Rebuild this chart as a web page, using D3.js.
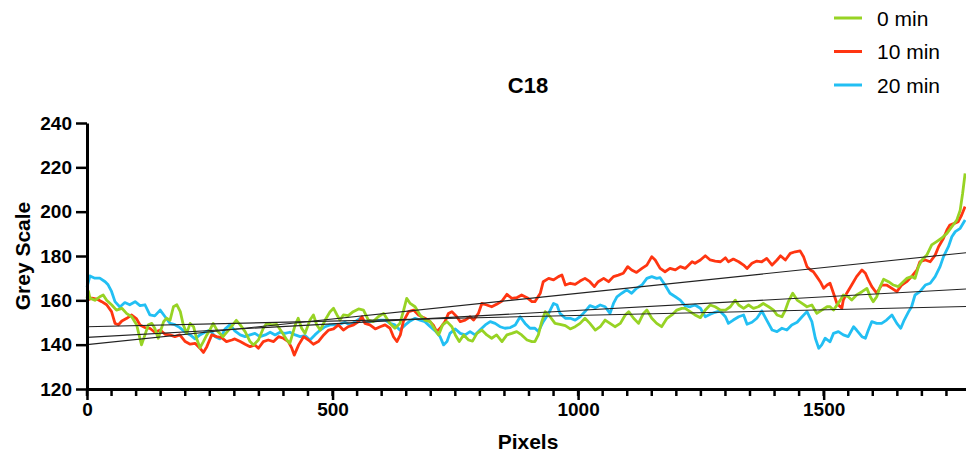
<!DOCTYPE html>
<html>
<head>
<meta charset="utf-8">
<script src="https://cdn.jsdelivr.net/npm/d3@7"></script>
<style>
    body { margin: 0; background: #fff; }
    text { font-family: 'Liberation Sans', Arial, sans-serif; }
</style>
</head>
<body>
<div id="chart"></div>
<script>
(function() {
    'use strict';

    // data: [pixel, grey value]
    const seriesNames = ['0 min', '10 min', '20 min'];
    const seriesColors = ['#97d324', '#ff3511', '#22bff3'];

    const green0 = [
        [0, 161], [3, 164], [6, 161], [16, 160], [26, 161.6], [33, 162.4], [40, 160], [50, 158], [60, 155.6],
        [71, 156.4], [81, 154], [91, 152.6], [101, 149], [111, 139.9], [118, 144.4], [125, 149], [132, 149.6],
        [138, 147.4], [145, 142.9], [156, 150.4], [162, 151.9], [169, 151], [176, 157.1], [183, 158], [190, 154.9],
        [196, 149], [203, 145.1], [210, 149.6], [217, 148.1], [223, 142.9], [230, 138.6], [237, 141.4], [244, 144.4],
        [250, 146.6], [257, 149.6], [266, 146], [277, 143.6], [290, 147], [304, 151], [312, 148.9], [322, 145.9],
        [332, 141.4], [339, 139.9], [349, 142.1], [359, 147.4], [366, 149.6], [376, 148.9], [386, 149.2], [396, 145.9],
        [407, 142.1], [413, 140.6], [424, 148.9], [430, 151.9], [437, 147.4], [444, 145.1], [454, 151.1], [461, 153.4],
        [468, 148.9], [475, 146.6], [485, 151.1], [495, 154.9], [502, 156.4], [509, 153.4], [515, 151.1], [522, 153.4],
        [532, 153.1], [542, 154.9], [553, 156.1], [563, 155.6], [573, 151.1], [583, 150.4], [593, 152.6], [604, 154.1],
        [617, 149.6], [627, 147.4], [637, 149.6], [644, 154.9], [651, 160.9], [658, 158.6], [668, 157.1], [678, 153.4],
        [688, 151.1], [699, 150.4], [709, 146.6], [716, 144.4], [724, 148.9], [733, 150.4], [743, 148.1], [750, 144.4],
        [758, 141.4], [767, 144.4], [777, 142.1], [785, 141.6], [794, 145.1], [804, 146.6], [814, 144.4], [824, 142.9],
        [834, 144.4], [845, 141.4], [855, 144.4], [865, 145.1], [875, 145.9], [885, 144.4], [896, 142.1], [906, 141.4],
        [912, 141.4], [919, 144.4], [926, 150.4], [933, 154.9], [943, 152.6], [953, 149.6], [963, 149.2], [974, 148.6],
        [984, 147.1], [994, 148.1], [1004, 149.6], [1014, 151.9], [1024, 149.6], [1035, 146.6], [1045, 148.1],
        [1055, 151.1], [1065, 149.6], [1075, 148.1], [1086, 149.6], [1096, 153.4], [1103, 154.9], [1113, 151.9],
        [1123, 149.6], [1133, 154.1], [1140, 155.6], [1150, 151.9], [1160, 149.6], [1170, 148.1], [1181, 151.9],
        [1191, 153.4], [1201, 155.6], [1211, 156.4], [1218, 156.4], [1228, 154.9], [1238, 153.4], [1249, 152.2],
        [1259, 155.6], [1269, 157.9], [1279, 157.1], [1290, 155.6], [1300, 155.6], [1310, 157.1], [1320, 160.1],
        [1327, 157.9], [1337, 156.4], [1347, 157.9], [1357, 156.4], [1367, 157.1], [1377, 158.6], [1388, 157.1],
        [1398, 155.6], [1405, 153.4], [1415, 152.6], [1422, 155.6], [1428, 159.4], [1437, 163.2], [1446, 160.1],
        [1456, 158.6], [1466, 157.1], [1476, 157.9], [1486, 154.1], [1496, 155.6], [1507, 157.1], [1513, 157.1],
        [1520, 155.6], [1534, 160.1], [1540, 162.4], [1550, 161.6], [1557, 160.1], [1567, 162.4], [1578, 163.9],
        [1588, 165.4], [1595, 161.6], [1601, 159.4], [1608, 161.6], [1615, 166.2], [1622, 169.5], [1632, 168.4],
        [1642, 166.9], [1652, 166.2], [1659, 167.7], [1669, 169.9], [1679, 170.7], [1686, 169.9], [1693, 175.2],
        [1700, 178.2], [1710, 180.4], [1720, 185], [1730, 186.5], [1740, 188], [1751, 190.2], [1761, 193.2],
        [1771, 196.2], [1778, 200.7], [1783, 208.3], [1788, 217.3]
    ];

    const red10 = [
        [0, 160], [10, 161], [20, 160.6], [30, 159.4], [40, 158], [50, 154.9], [57, 149.6], [64, 149], [71, 150.7],
        [81, 151.9], [91, 153.4], [101, 151.6], [108, 148.9], [118, 147.7], [128, 147.4], [138, 145.6], [149, 146.6],
        [159, 144.7], [169, 144.4], [179, 143.6], [189, 144.4], [200, 141.4], [210, 140.2], [220, 140.6], [230, 138.4],
        [237, 136.5], [244, 139.1], [254, 144.4], [264, 143.6], [274, 143.2], [284, 141.4], [295, 142.1], [301, 142.6],
        [312, 141.4], [322, 140.2], [332, 139.1], [342, 139.9], [349, 138.4], [359, 141.4], [369, 142.1], [380, 141.4],
        [390, 143.6], [400, 142.9], [410, 141.4], [417, 138.4], [422, 135.3], [431, 139.9], [441, 143.6], [451, 142.1],
        [461, 140.2], [471, 141.4], [482, 144.4], [492, 146.6], [502, 147.1], [512, 148.9], [522, 146.6], [532, 148.1],
        [543, 148.9], [553, 150.4], [560, 152.6], [566, 149.6], [576, 148.9], [587, 147.1], [597, 148.1], [607, 148.9],
        [617, 147.4], [624, 143.6], [631, 141.4], [638, 144.4], [644, 150.4], [655, 154.9], [665, 155.6], [675, 153.4],
        [685, 152.2], [695, 151.1], [705, 148.9], [712, 145.9], [719, 147.4], [729, 150.4], [736, 154.1], [743, 154.9],
        [753, 152.6], [760, 150.4], [770, 151.1], [780, 152.6], [787, 151.1], [797, 154.1], [804, 158.6], [814, 157.9],
        [824, 157.1], [834, 158.2], [845, 159.7], [855, 162.7], [865, 160.9], [875, 161.2], [885, 162.4], [896, 161.2],
        [906, 159.4], [912, 159.4], [923, 163.2], [929, 168.4], [940, 169.9], [950, 169.2], [960, 170.7], [967, 171.4],
        [974, 166.9], [984, 167.7], [994, 167.2], [1004, 168.7], [1014, 169.9], [1024, 168.4], [1033, 166.2],
        [1041, 168.4], [1052, 169.9], [1062, 168.4], [1072, 170.7], [1082, 171.4], [1092, 172.2], [1101, 175.2],
        [1109, 173.7], [1119, 172.6], [1130, 174.4], [1140, 175.9], [1150, 179.7], [1157, 178.2], [1167, 174.4],
        [1177, 172.9], [1187, 174.4], [1198, 173.7], [1208, 175.2], [1218, 174.4], [1232, 177.4], [1238, 176.7],
        [1249, 178.2], [1259, 180.1], [1269, 178.2], [1279, 177.7], [1290, 177.4], [1300, 179.2], [1306, 177.4],
        [1316, 178.6], [1327, 177.4], [1337, 175.9], [1344, 174.4], [1354, 176.7], [1364, 177.7], [1374, 177.4],
        [1384, 178.9], [1395, 175.9], [1405, 178.2], [1412, 180.1], [1422, 178.2], [1432, 181.2], [1442, 181.9],
        [1452, 182.3], [1459, 179.7], [1466, 175.2], [1473, 173.7], [1479, 172.9], [1486, 170.7], [1493, 168.4],
        [1500, 165.4], [1507, 166.9], [1513, 167.7], [1520, 163.2], [1527, 158.6], [1537, 156.4], [1540, 160.1],
        [1547, 163.2], [1557, 166.9], [1567, 170.7], [1578, 173.7], [1585, 172.2], [1591, 169.2], [1598, 166.2],
        [1608, 163.2], [1618, 166.9], [1628, 166.9], [1639, 165.4], [1649, 163.9], [1659, 166.9], [1669, 168.4],
        [1679, 170.7], [1690, 173.7], [1696, 177.4], [1707, 178.2], [1717, 177.4], [1727, 180.4], [1734, 184.2],
        [1744, 188], [1751, 191.7], [1757, 194], [1766, 194.7], [1774, 195.5], [1781, 198.5], [1788, 202.3]
    ];

    const blue20 = [
        [0, 166], [6, 171], [16, 170], [26, 170], [37, 168.4], [43, 167], [50, 164], [57, 159.4], [67, 157], [77, 159],
        [87, 158], [98, 159.4], [108, 157.6], [118, 158], [128, 153.4], [138, 153], [149, 155.6], [159, 152.6],
        [169, 149.6], [179, 149], [189, 147.7], [200, 145.6], [210, 144.4], [220, 142.6], [230, 144.4], [240, 145.6],
        [250, 146.6], [261, 143.6], [271, 142.6], [281, 147], [291, 149], [301, 146.2], [312, 144.4], [322, 143.6],
        [332, 144.4], [342, 145.1], [352, 143.6], [363, 144.4], [373, 145.6], [383, 144.4], [393, 145.6], [403, 145.1],
        [413, 145.6], [424, 144.4], [434, 143.6], [444, 144.1], [454, 142.1], [464, 144.4], [475, 146.6], [485, 148.1],
        [495, 148.9], [505, 148.9], [515, 149.2], [525, 150.1], [536, 148.9], [546, 150.4], [556, 151.9], [566, 150.1],
        [576, 150.4], [587, 150.7], [597, 151.1], [607, 151.1], [617, 149.6], [627, 148.9], [637, 146.6], [648, 148.9],
        [658, 150.7], [668, 151.9], [678, 151.1], [688, 150.4], [699, 148.1], [709, 146.2], [719, 143.6], [726, 139.9],
        [733, 141.4], [739, 145.1], [750, 147.1], [760, 145.1], [770, 144.4], [780, 145.9], [790, 144.4], [800, 146.6],
        [811, 148.9], [821, 150.4], [831, 149.6], [841, 148.1], [851, 147.4], [862, 147.7], [872, 148.9], [882, 152.6],
        [892, 149.6], [902, 147.4], [912, 147.4], [919, 145.9], [929, 150.4], [940, 154.1], [950, 158.6], [957, 157.9],
        [963, 154.1], [974, 151.9], [984, 151.9], [994, 151.1], [1004, 152.6], [1014, 154.9], [1024, 157.6],
        [1035, 156.7], [1045, 157.9], [1055, 157.1], [1065, 154.1], [1072, 158.6], [1079, 161.6], [1089, 163.2],
        [1099, 164.7], [1109, 163.2], [1119, 165.4], [1130, 166.9], [1140, 169.9], [1150, 170.7], [1160, 169.9],
        [1167, 170.2], [1177, 166.9], [1187, 163.2], [1198, 161.6], [1208, 160.1], [1218, 157.5], [1228, 157.1],
        [1238, 157.9], [1249, 156.4], [1259, 152.6], [1269, 153.7], [1279, 154.6], [1289, 155.2], [1300, 152.6],
        [1306, 149.6], [1316, 151.1], [1327, 152.6], [1337, 153.4], [1344, 149.2], [1354, 150.1], [1364, 151.9],
        [1374, 155.2], [1384, 151.1], [1395, 146.6], [1405, 145.9], [1415, 147.4], [1425, 146.6], [1435, 148.9],
        [1446, 150.1], [1456, 152.6], [1466, 154.9], [1476, 150.4], [1483, 142.9], [1490, 138.4], [1496, 139.9],
        [1503, 142.9], [1513, 141.3], [1520, 145.1], [1530, 145.9], [1540, 144.4], [1550, 143.6], [1561, 148.1],
        [1567, 146.6], [1578, 143.6], [1585, 142.9], [1591, 146.6], [1598, 150.4], [1608, 149.6], [1618, 149.6],
        [1628, 151.1], [1639, 153.4], [1649, 149.6], [1657, 147.4], [1664, 151.1], [1673, 154.9], [1679, 157.1],
        [1686, 162.4], [1696, 163.9], [1707, 166.9], [1717, 167.7], [1727, 170.7], [1737, 175.2], [1744, 179.7],
        [1754, 184.2], [1761, 188.7], [1768, 191], [1778, 192.5], [1788, 196.2]
    ];

    // linear fits drawn as thin black lines: value at pixel 0 and at pixel 1790
    const trendX = [0, 1790];
    const trendStart = [148.1, 140.0, 143.3];
    const trendEnd = [157.2, 181.5, 165.1];

    const yTicks = [120, 140, 160, 180, 200, 220, 240];
    const xTicks = [0, 500, 1000, 1500];
    const xMinorTicks = d3.range(0, 1801, 50);

    const width = 966;
    const height = 454;
    const font = "'Liberation Sans', Arial, sans-serif";

    const x = d3.scaleLinear().domain([0, 1800]).range([87, 971]);
    const y = d3.scaleLinear().domain([120, 240]).range([389, 123]);

    const svg = d3.select('#chart').append('svg')
        .attr('width', width)
        .attr('height', height);

    // title =====================================================
    svg.append('text')
        .attr('x', 528)
        .attr('y', 93)
        .attr('text-anchor', 'middle')
        .style('font-size', '22px')
        .style('font-weight', 'bold')
        .text('C18');

    // series ====================================================
    const line = d3.line()
        .x(d => x(d[0]))
        .y(d => y(d[1]));

    const series = [green0, red10, blue20];
    const drawOrder = [2, 1, 0];

    svg.append('g').attr('id', 'series').selectAll('path').data(drawOrder).enter().append('path')
        .attr('d', i => line(series[i]))
        .attr('fill', 'none')
        .attr('stroke', i => seriesColors[i])
        .attr('stroke-width', 2.8)
        .attr('stroke-linejoin', 'round');

    // trend lines ===============================================
    svg.append('g').attr('id', 'trends').selectAll('line').data(trendStart).enter().append('line')
        .attr('x1', x(trendX[0]))
        .attr('y1', d => y(d))
        .attr('x2', x(trendX[1]))
        .attr('y2', (d, i) => y(trendEnd[i]))
        .attr('stroke', '#222')
        .attr('stroke-width', 1.1);

    // axes ======================================================
    // minor x ticks every 50 px
    svg.append('g').attr('id', 'minorTicks').selectAll('line').data(xMinorTicks).enter().append('line')
        .attr('x1', d => x(d))
        .attr('x2', d => x(d))
        .attr('y1', y(120))
        .attr('y2', y(120) + 7)
        .attr('stroke', '#000')
        .attr('stroke-width', 2.5);

    const yAxis = svg.append('g')
        .attr('transform', `translate(${x(0)},0)`)
        .call(d3.axisLeft(y).tickValues(yTicks).tickSize(11).tickSizeOuter(0).tickPadding(4));

    const xAxis = svg.append('g')
        .attr('transform', `translate(0,${y(120)})`)
        .call(d3.axisBottom(x).tickValues(xTicks).tickSize(11).tickSizeOuter(0).tickPadding(3)
            .tickFormat(d3.format('d')));

    [yAxis, xAxis].forEach(g => {
        g.select('.domain').attr('stroke', '#000').attr('stroke-width', 3);
        g.selectAll('.tick line').attr('stroke', '#000').attr('stroke-width', 2.5);
        g.selectAll('.tick text')
            .attr('fill', '#000')
            .style('font-family', font)
            .style('font-size', '19px')
            .style('font-weight', 'bold');
    });

    svg.append('text')
        .attr('transform', 'translate(30,256) rotate(-90)')
        .attr('text-anchor', 'middle')
        .style('font-size', '21px')
        .style('font-weight', 'bold')
        .text('Grey Scale');

    svg.append('text')
        .attr('x', 528)
        .attr('y', 449)
        .attr('text-anchor', 'middle')
        .style('font-size', '21px')
        .style('font-weight', 'bold')
        .text('Pixels');

    // legend ====================================================
    const legend = svg.append('g').attr('id', 'legend');

    legend.selectAll('line').data(seriesNames).enter().append('line')
        .attr('x1', 834)
        .attr('x2', 862)
        .attr('y1', (d, i) => 18 + i * 33.5)
        .attr('y2', (d, i) => 18 + i * 33.5)
        .attr('stroke', (d, i) => seriesColors[i])
        .attr('stroke-width', 3);

    legend.selectAll('text').data(seriesNames).enter().append('text')
        .attr('x', 877)
        .attr('y', (d, i) => 25.5 + i * 33.5)
        .style('font-size', '21px')
        .text(d => d);
}());
</script>
</body>
</html>
